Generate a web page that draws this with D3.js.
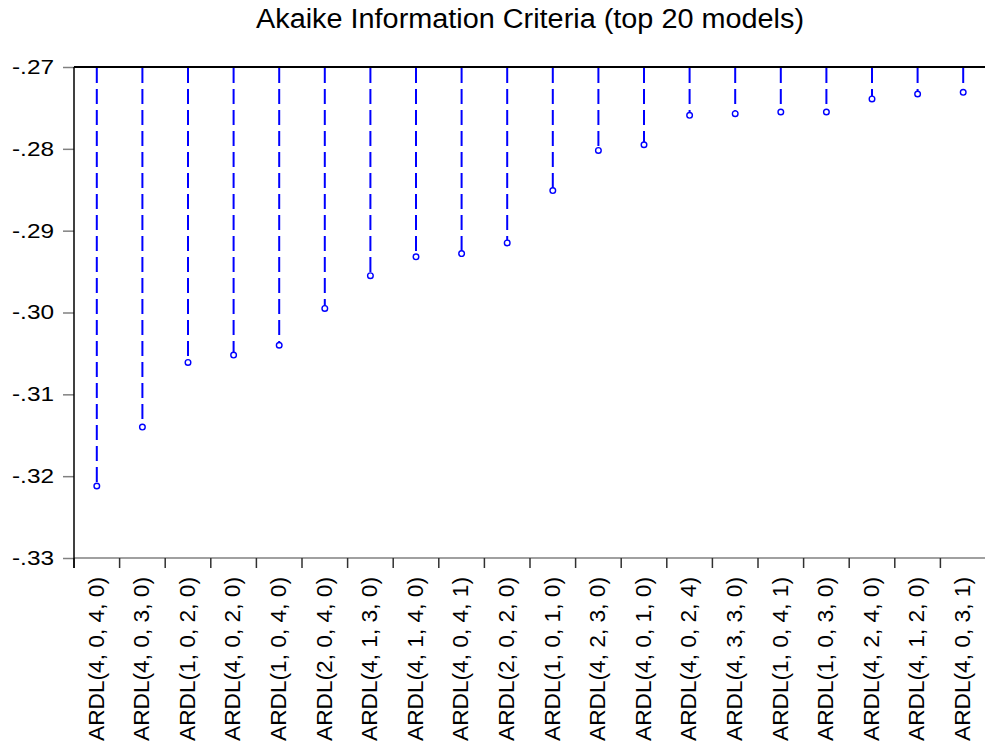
<!DOCTYPE html>
<html>
<head>
<meta charset="utf-8">
<script src="https://cdn.jsdelivr.net/npm/d3@7"></script>
<style>
  html, body { margin: 0; padding: 0; background: #fff; }
  svg { display: block; font-family: "Liberation Sans", Arial, sans-serif; }
</style>
</head>
<body>
<svg id="chart" width="985" height="746"></svg>
<script>
// Top 20 ARDL specifications ranked by Akaike information criterion
const models = [
  "ARDL(4, 0, 4, 0)", "ARDL(4, 0, 3, 0)", "ARDL(1, 0, 2, 0)", "ARDL(4, 0, 2, 0)",
  "ARDL(1, 0, 4, 0)", "ARDL(2, 0, 4, 0)", "ARDL(4, 1, 3, 0)", "ARDL(4, 1, 4, 0)",
  "ARDL(4, 0, 4, 1)", "ARDL(2, 0, 2, 0)", "ARDL(1, 0, 1, 0)", "ARDL(4, 2, 3, 0)",
  "ARDL(4, 0, 1, 0)", "ARDL(4, 0, 2, 4)", "ARDL(4, 3, 3, 0)", "ARDL(1, 0, 4, 1)",
  "ARDL(1, 0, 3, 0)", "ARDL(4, 2, 4, 0)", "ARDL(4, 1, 2, 0)", "ARDL(4, 0, 3, 1)"
];
const aic = [
  -0.3212, -0.3140, -0.3061, -0.3052, -0.3040, -0.2995, -0.2955, -0.2932,
  -0.2928, -0.2915, -0.2851, -0.2802, -0.2795, -0.2759, -0.2757, -0.2755,
  -0.2755, -0.2739, -0.2733, -0.2731
];
const yTicks = [-0.27, -0.28, -0.29, -0.30, -0.31, -0.32, -0.33];
const yTickLabels = ["-.27", "-.28", "-.29", "-.30", "-.31", "-.32", "-.33"];
const title = "Akaike Information Criteria (top 20 models)";

const svg = d3.select("#chart");
const plotLeft = 74, plotRight = 986, plotTop = 67, plotBottom = 558;

const x = d3.scaleBand().domain(models).range([plotLeft, plotRight]).paddingInner(0).paddingOuter(0);
const y = d3.scaleLinear().domain([-0.33, -0.27]).range([plotBottom, plotTop]);

// title (wide GDI-style lettering)
svg.append("text")
  .attr("x", (plotLeft + plotRight) / 2)
  .attr("y", 28)
  .attr("text-anchor", "middle")
  .attr("font-size", 27)
  .attr("textLength", 548)
  .attr("lengthAdjust", "spacingAndGlyphs")
  .attr("fill", "#000")
  .text(title);

// y axis
const yAxis = d3.axisLeft(y)
  .tickValues(yTicks)
  .tickFormat((d, i) => yTickLabels[i])
  .tickSize(11)
  .tickPadding(9);
const gy = svg.append("g").attr("transform", `translate(${plotLeft},0)`).call(yAxis);
gy.select(".domain").remove();
gy.selectAll(".tick line").attr("stroke", "#808080").attr("stroke-width", 1.5);
gy.selectAll(".tick text")
  .attr("font-size", 20)
  .attr("textLength", 42)
  .attr("lengthAdjust", "spacingAndGlyphs")
  .attr("fill", "#000")
  .attr("font-family", "Liberation Sans, Arial, sans-serif");

// x axis: ticks sit between categories
const boundaries = models.map(m => x(m)).concat([plotRight]);
const gx = svg.append("g");
gx.append("line")
  .attr("x1", plotLeft).attr("x2", plotRight)
  .attr("y1", plotBottom).attr("y2", plotBottom)
  .attr("stroke", "#808080").attr("stroke-width", 1.5);
gx.selectAll("line.tk").data(boundaries).join("line")
  .attr("class", "tk")
  .attr("x1", d => d).attr("x2", d => d)
  .attr("y1", plotBottom).attr("y2", plotBottom + 10)
  .attr("stroke", "#303030").attr("stroke-width", 1.5);
gx.selectAll("text").data(models).join("text")
  .attr("transform", d => `translate(${x(d) + x.bandwidth() / 2 - 1},${plotBottom + 19}) rotate(-90)`)
  .attr("text-anchor", "end")
  .attr("dy", "0.35em")
  .attr("font-size", 22)
  .attr("textLength", 164)
  .attr("lengthAdjust", "spacingAndGlyphs")
  .attr("fill", "#000")
  .text(d => d);

// frame: left axis and top border
svg.append("line")
  .attr("x1", plotLeft).attr("x2", plotLeft).attr("y1", plotTop).attr("y2", plotBottom + 10)
  .attr("stroke", "#000").attr("stroke-width", 1.5);
svg.append("line")
  .attr("x1", plotLeft).attr("x2", plotRight).attr("y1", plotTop).attr("y2", plotTop)
  .attr("stroke", "#000").attr("stroke-width", 2);

// dashed spikes from the top axis down to each value
const cx = d => x(d) + x.bandwidth() / 2;
svg.append("g").selectAll("line").data(models).join("line")
  .attr("x1", cx).attr("x2", cx)
  .attr("y1", plotTop + 1)
  .attr("y2", (d, i) => y(aic[i]) - 2.5)
  .attr("stroke", "#0000ff")
  .attr("stroke-width", 2)
  .attr("stroke-dasharray", "15,6");

svg.append("g").selectAll("circle").data(models).join("circle")
  .attr("cx", cx)
  .attr("cy", (d, i) => y(aic[i]))
  .attr("r", 2.8)
  .attr("fill", "#fff")
  .attr("stroke", "#0000ff")
  .attr("stroke-width", 1.4);
</script>
</body>
</html>
